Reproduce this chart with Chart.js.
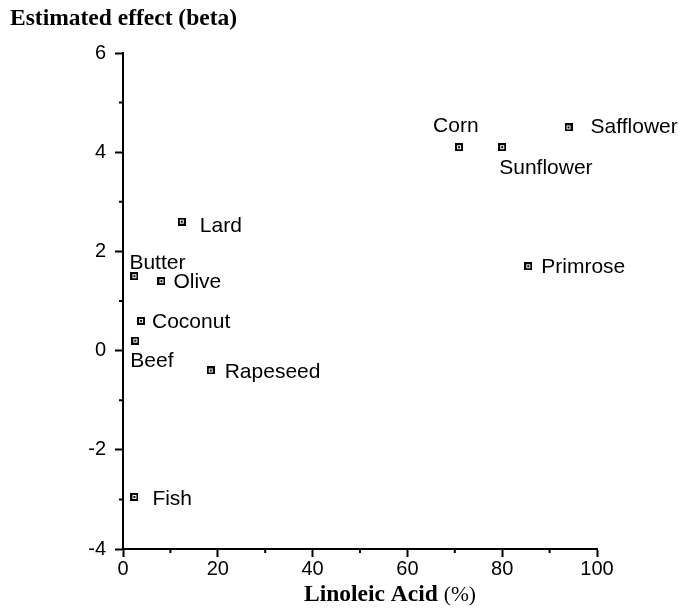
<!DOCTYPE html>
<html>
<head>
<meta charset="utf-8">
<script src="https://cdn.jsdelivr.net/npm/chart.js@4"></script>
<style>
  html, body { margin: 0; padding: 0; background: #fff; }
  #wrap { width: 683px; height: 608px; }
</style>
</head>
<body>
<div id="wrap"><canvas id="fatChart"></canvas></div>
<script>
// Data
const oils = ['Corn', 'Sunflower', 'Safflower', 'Primrose', 'Lard', 'Butter', 'Olive', 'Coconut', 'Beef', 'Rapeseed', 'Fish'];
const linoleicAcid = [70.9, 80, 94, 85.5, 12.4, 2.4, 8.1, 3.8, 2.6, 18.5, 2.4];
const beta = [4.1, 4.1, 4.5, 1.7, 2.6, 1.5, 1.4, 0.6, 0.2, -0.4, -2.95];
const xTicks = [0, 20, 40, 60, 80, 100];
const yTicks = [-4, -2, 0, 2, 4, 6];

// where each name sits relative to its marker (left edge, baseline)
const labelOffsets = [
    [-26, -15], [-3, 27], [22, 6], [13, 7], [18, 10], [-5, -7],
    [12, 7], [11, 7], [-5, 26], [14, 8], [18, 8]
];

// small square marker with a dot in the middle
const marker = document.createElement('canvas');
marker.width = 8;
marker.height = 8;
const mctx = marker.getContext('2d');
mctx.fillStyle = '#000';
mctx.fillRect(0, 0, 8, 8);
mctx.fillStyle = '#fff';
mctx.fillRect(2, 2, 4, 4);
mctx.fillStyle = '#000';
mctx.fillRect(3, 3, 2, 2);

const serif = '"Liberation Serif", "Times New Roman", serif';

const labelPlugin = {
    id: 'oilLabels',
    afterDatasetsDraw(chart) {
        const ctx = chart.ctx;
        const meta = chart.getDatasetMeta(0);
        ctx.save();
        ctx.fillStyle = '#000';
        ctx.font = '21px "Liberation Sans", Arial, sans-serif';
        ctx.textAlign = 'left';
        ctx.textBaseline = 'alphabetic';
        meta.data.forEach((pt, i) => {
            ctx.fillText(oils[i], pt.x + labelOffsets[i][0], pt.y + labelOffsets[i][1]);
        });
        ctx.restore();
    }
};

const axisExtras = {
    id: 'axisExtras',
    afterDraw(chart) {
        const ctx = chart.ctx;
        const xs = chart.scales.x;
        const ys = chart.scales.y;
        ctx.save();
        // minor ticks
        ctx.strokeStyle = '#000';
        ctx.lineWidth = 2;
        ctx.beginPath();
        for (let v = -3; v <= 5; v += 2) {
            const py = ys.getPixelForValue(v);
            ctx.moveTo(xs.left - 4, py);
            ctx.lineTo(xs.left, py);
        }
        for (let v = 10; v <= 90; v += 20) {
            const px = xs.getPixelForValue(v);
            ctx.moveTo(px, ys.bottom);
            ctx.lineTo(px, ys.bottom + 4);
        }
        ctx.stroke();

        // axis titles
        ctx.fillStyle = '#000';
        ctx.textBaseline = 'alphabetic';
        ctx.textAlign = 'left';
        ctx.font = 'bold 23.5px ' + serif;
        ctx.fillText('Estimated effect (beta)', 10, 25);

        const boldPart = 'Linoleic Acid ';
        const plainPart = '(%)';
        const boldW = ctx.measureText(boldPart).width;
        ctx.font = '21.5px ' + serif;
        const plainW = ctx.measureText(plainPart).width;
        const startX = 390 - (boldW + plainW) / 2;
        ctx.font = 'bold 23.5px ' + serif;
        ctx.fillText(boldPart, startX, 601);
        ctx.font = '21.5px ' + serif;
        ctx.fillText(plainPart, startX + boldW, 601);
        ctx.restore();
    }
};

new Chart(document.getElementById('fatChart'), {
    type: 'scatter',
    data: {
        datasets: [{
            label: 'Oils',
            data: linoleicAcid.map((x, i) => ({ x: x, y: beta[i] })),
            pointStyle: marker,
            pointRadius: 4,
            pointHoverRadius: 4
        }]
    },
    options: {
        responsive: true,
        maintainAspectRatio: false,
        animation: false,
        events: [],
        layout: { padding: { top: 53, left: 0, right: 86, bottom: 0 } },
        plugins: {
            legend: { display: false },
            tooltip: { enabled: false }
        },
        scales: {
            x: {
                type: 'linear',
                min: 0,
                max: 100,
                afterBuildTicks: scale => { scale.ticks = xTicks.map(v => ({ value: v })); },
                afterFit: scale => { scale.height = 59; },
                border: { color: '#000', width: 2 },
                grid: { drawOnChartArea: false, tickLength: 8, tickWidth: 2, tickColor: '#000' },
                ticks: {
                    color: '#000',
                    padding: 0,
                    font: { family: '"Liberation Sans", Arial, sans-serif', size: 20 }
                }
            },
            y: {
                type: 'linear',
                min: -4,
                max: 6,
                afterBuildTicks: scale => { scale.ticks = yTicks.map(v => ({ value: v })); },
                afterFit: scale => { scale.width = 123; },
                border: { color: '#000', width: 2 },
                grid: { drawOnChartArea: false, tickLength: 8, tickWidth: 2, tickColor: '#000' },
                ticks: {
                    color: '#000',
                    padding: 9,
                    callback: v => String(v),
                    font: { family: '"Liberation Sans", Arial, sans-serif', size: 20 }
                }
            }
        }
    },
    plugins: [labelPlugin, axisExtras]
});
</script>
</body>
</html>
